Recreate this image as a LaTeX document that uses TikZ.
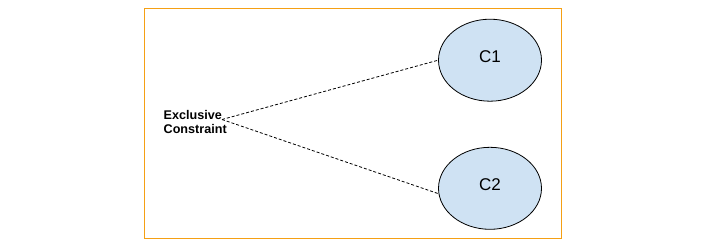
\documentclass[tikz,border=0pt]{standalone}
\usepackage{fontspec}
\setmainfont{Liberation Sans}
\usepackage{tikz}
\usetikzlibrary{shapes.geometric,positioning,calc}
\usepackage{xcolor}
\definecolor{frameorange}{RGB}{245,160,20}
\definecolor{cellblue}{RGB}{207,226,243}

\begin{document}
\begin{tikzpicture}[x=1pt, y=-1pt,
    frame/.style={draw=frameorange, line width=1.2pt},
    constr/.style={ellipse, draw=black, fill=cellblue, line width=0.8pt,
        minimum width=103pt, minimum height=82pt, inner sep=0pt,
        text height=0.73em, text depth=0.3em,
        font=\fontsize{17}{20}\selectfont},
    label/.style={align=left, inner sep=0pt, font=\fontsize{12.6}{14.3}\selectfont\bfseries},
    link/.style={draw=black, line width=0.8pt, dash pattern=on 3pt off 2pt}]

    \useasboundingbox (0,0) rectangle (720,244);

    % Frame
    \draw[frame] (144.7,8.3) rectangle (561.7,238.3);

    % Constraint and its members
    \node[label, anchor=west] (excl) at (163.5,122) {Exclusive\\Constraint};
    \coordinate (hub) at (222,119.5);
    \node[constr] (c1) at (490,60.2) {C1};
    \node[constr] (c2) at (490,188.3) {C2};

    \draw[link] (hub) -- (c1.west);
    \draw[link] (hub) -- (c2.186);
\end{tikzpicture}
\end{document}
